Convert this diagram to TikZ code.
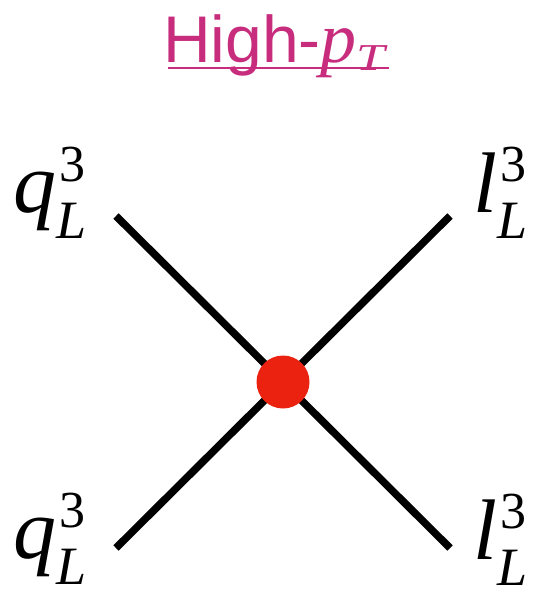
\documentclass[tikz,border=0pt]{standalone}
\usepackage{fontspec}
\setmainfont{Liberation Serif}
\setsansfont{Liberation Sans}
\definecolor{titlepink}{RGB}{200,45,125}
\definecolor{dotred}{RGB}{236,34,17}
\newcommand{\partlab}[1]{\textit{#1}\rlap{\raisebox{31pt}{\kern3pt\fontsize{52}{52}\selectfont 3}}\raisebox{-26pt}{\fontsize{54}{54}\selectfont\itshape L}}
\tikzset{
  leg/.style={line width=7.5pt, black},
  lab/.style={inner sep=0pt, anchor=base west, font=\fontsize{86}{86}\selectfont},
  vertex/.style={circle, fill=dotred, minimum size=53pt, inner sep=0pt},
}
\begin{document}
\begin{tikzpicture}[x=1pt,y=1pt]
\useasboundingbox (0,0) rectangle (535,-593);
\node[inner sep=0pt, anchor=base west, text=titlepink, font=\fontsize{66}{66}\selectfont\sffamily] (t) at (163,-63)
  {High-{\fontsize{72}{72}\selectfont\rmfamily\itshape p}\raisebox{-8pt}{\fontsize{38}{38}\selectfont\rmfamily\itshape\scalebox{1.35}[1]{T}}};
\draw[titlepink, line width=2.5pt] ([yshift=-5pt,xshift=5pt]t.base west) -- ([yshift=-5pt,xshift=3pt]t.base east);
\coordinate (tl) at (116,-216);
\coordinate (bl) at (116,-548);
\coordinate (tr) at (450,-216);
\coordinate (br) at (450,-548);
\coordinate (c) at (283,-382);
\draw[leg] (tl) -- (c);
\draw[leg] (bl) -- (c);
\draw[leg] (tr) -- (c);
\draw[leg] (br) -- (c);
\node[vertex] (v) at (c) {};
\node[lab] (q1) at (13,-213) {\partlab{q}};
\node[lab] (q2) at (13,-558) {\partlab{q}};
\node[lab] (l1) at (473,-213) {\partlab{l}};
\node[lab] (l2) at (473,-559) {\partlab{l}};
\end{tikzpicture}
\end{document}
